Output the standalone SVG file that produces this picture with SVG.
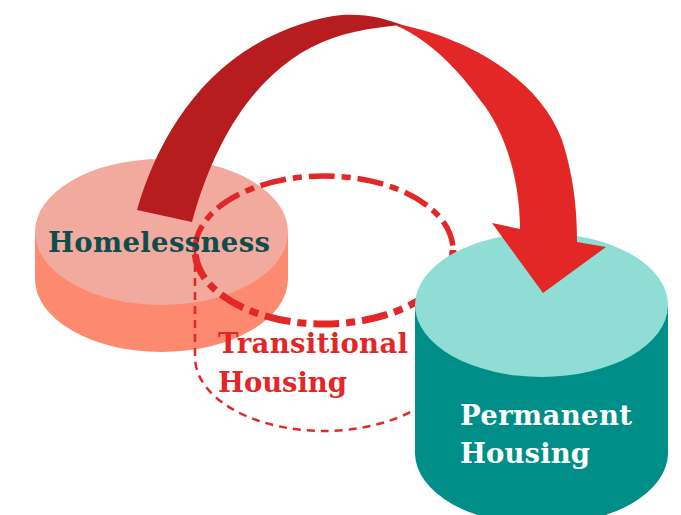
<svg xmlns="http://www.w3.org/2000/svg" width="681" height="515" viewBox="0 0 681 515">
  <style>
    .label { font-family: "DejaVu Serif", "Liberation Serif", serif; font-weight: bold; font-size: 27.5px; }
    .dash-thick { fill: none; stroke: #E32626; stroke-dasharray: 26 7 9 7; }
    .dash-thin { fill: none; stroke: #E32626; stroke-width: 2.5; stroke-dasharray: 8 6; }
  </style>
  <rect width="681" height="515" fill="#FFFFFF"/>

  <!-- Homelessness cylinder -->
  <g id="homelessness">
    <ellipse cx="161.5" cy="279" rx="126.5" ry="73" fill="#FD8A6E"/>
    <rect x="35" y="232" width="253" height="47" fill="#FD8A6E"/>
    <ellipse cx="161.5" cy="232" rx="126.5" ry="73" fill="#F3AA9E"/>
  </g>

  <!-- Transitional housing: dashed outline cylinder -->
  <g id="transitional">
    <path class="dash-thin" d="M195,250 L195,357 A129,74 0 0 0 453,357 L453,250"/>
    <!-- far rim drawn lighter, near rim heavier -->
    <path class="dash-thick" stroke-width="5.5" d="M195,250 A129,74 0 0 1 453,250"/>
    <path class="dash-thick" stroke-width="7" d="M453,250 A129,74 0 0 1 195,250"/>
  </g>

  <!-- Permanent housing cylinder -->
  <g id="permanent">
    <ellipse cx="541.5" cy="453" rx="126.5" ry="72" fill="#008E89"/>
    <rect x="415" y="305" width="253" height="148" fill="#008E89"/>
    <ellipse cx="541.5" cy="305" rx="126.5" ry="72" fill="#8FDDD5"/>
  </g>

  <!-- Curved ribbon arrow -->
  <g id="connectors">
    <path fill="#E32626" d="M397,24 C470,38 540,80 562,140 C575,180 577,215 577,242 L606,247 L543,293 L492,223 L520,229 C520,180 505,130 480,100 C460,72 430,40 397,26 Z"/>
    <path fill="#B71C1F" d="M137,210 C160,130 215,38 333,16 C360,12 385,18 402,25 C380,27 355,30 333,38 C270,60 220,120 192,222 Z"/>
  </g>

  <!-- Labels -->
  <g id="labels">
    <text class="label" x="159" y="252" text-anchor="middle" fill="#0D4D4D" textLength="222">Homelessness</text>
    <text class="label" x="218" y="353" fill="#E32626" textLength="190">Transitional</text>
    <text class="label" x="218" y="392" fill="#E32626" textLength="129">Housing</text>
    <text class="label" x="460" y="425" fill="#FFFFFF" textLength="172">Permanent</text>
    <text class="label" x="460" y="463" fill="#FFFFFF" textLength="130">Housing</text>
  </g>
</svg>
